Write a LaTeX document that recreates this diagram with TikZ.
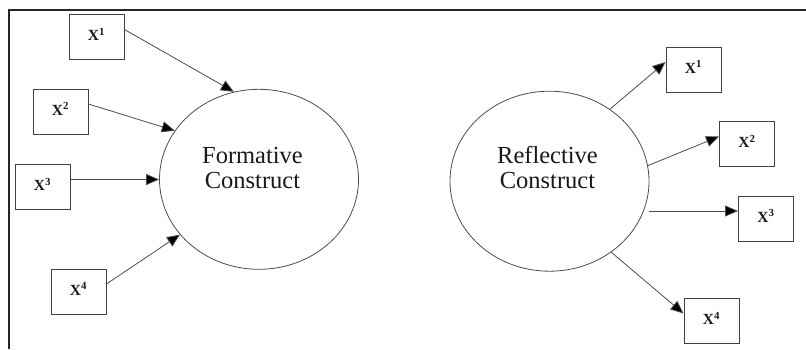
\documentclass[tikz,border=0pt]{standalone}
\usepackage{fontspec}
\setmainfont{Liberation Serif}
\usetikzlibrary{shapes.geometric,arrows.meta}
\begin{document}
\begin{tikzpicture}[x=1pt,y=-1pt,
  box/.style={draw=black!75,line width=0.9pt,minimum width=55pt,minimum height=45pt,inner sep=0pt,
    font=\fontsize{15.5}{16}\selectfont\bfseries,text=black!90},
  construct/.style={ellipse,draw=black!70,line width=0.8pt,minimum width=199pt,minimum height=180pt,inner sep=0pt},
  ctext/.style={align=center,font=\fontsize{24.5}{25}\selectfont,text=black!90},
  arr/.style={draw=black!70,line width=0.8pt,-{Triangle[length=13pt,width=11pt,fill=black]}},
  frame/.style={draw=black!85,line width=1.6pt}]
\useasboundingbox (0,0) rectangle (806,349);
% frame (top and left edges)
\coordinate (fa) at (806,10);
\coordinate (fb) at (9,10);
\coordinate (fc) at (9,349);
\draw[frame] (fa) -- (fb) -- (fc);

% formative side
\node[construct,label={[ctext,xshift=-6.5pt,yshift=11pt]center:Formative\\Construct}] (form) at (259,179.3) {};
\node[box] (lx1) at (96.5,37) {\raisebox{5pt}{X\textsuperscript{1}}};
\node[box] (lx2) at (60.5,111.5) {\raisebox{5pt}{X\textsuperscript{2}}};
\node[box] (lx3) at (42.5,187) {\raisebox{5pt}{X\textsuperscript{3}}};
\node[box] (lx4) at (78.5,291.5) {\raisebox{5pt}{X\textsuperscript{4}}};
\draw[arr] ([yshift=7.5pt]lx1.east) -- (form.106);
\draw[arr] ([yshift=7.5pt]lx2.east) -- (form.150);
\draw[arr] ([yshift=7.5pt]lx3.east) -- ([yshift=7.5pt]lx3.east -| form.west);
\draw[arr] ([yshift=7.5pt]lx4.east) -- (form.215);

% reflective side
\node[construct,label={[ctext,xshift=-2pt,yshift=14pt]center:Reflective\\Construct}] (refl) at (549.5,181.2) {};
\node[box] (rx1) at (693.5,69.5) {\raisebox{5pt}{X\textsuperscript{1}}};
\node[box] (rx2) at (747,144) {\raisebox{5pt}{X\textsuperscript{2}}};
\node[box] (rx3) at (766,218.5) {\raisebox{5pt}{X\textsuperscript{3}}};
\node[box] (rx4) at (711.5,321) {\raisebox{5pt}{X\textsuperscript{4}}};
\draw[arr] (refl.50) -- ([yshift=7.5pt]rx1.west);
\draw[arr] (refl.9) -- ([yshift=7.5pt]rx2.west);
\draw[arr] ([yshift=7.5pt]rx3.west -| refl.east) -- ([yshift=7.5pt]rx3.west);
\draw[arr] (refl.-49) -- ([yshift=7.5pt]rx4.west);
\end{tikzpicture}
\end{document}
